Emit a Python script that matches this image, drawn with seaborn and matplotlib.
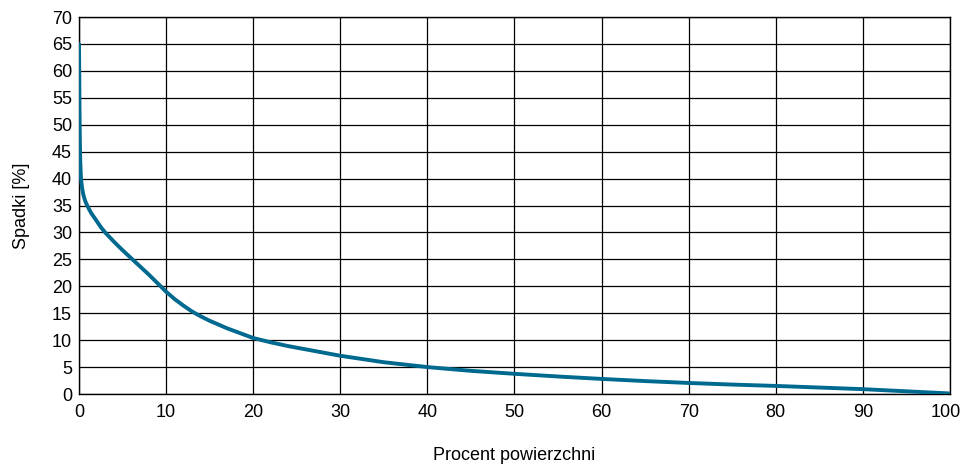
import pandas as pd
import matplotlib
matplotlib.use("Agg")
import matplotlib.pyplot as plt
import matplotlib.transforms as mtransforms
import seaborn as sns

# dane
procent = [0, 0.03, 0.06, 0.1, 0.15, 0.23, 0.35, 0.5, 0.7, 1.0, 1.4, 2, 2.5,
           3, 4, 5, 6, 7, 8, 9, 10, 11, 12, 13, 14, 15, 16, 17, 18, 19, 20,
           22, 24, 26, 28, 30, 35, 40, 45, 50, 55, 60, 65, 70, 75, 80, 85, 90,
           95, 100]
spadki = [65, 60, 53, 47, 43, 40, 38.3, 37.0, 35.9, 34.8, 33.6, 32.2, 31.0,
          30.0, 28.3, 26.7, 25.2, 23.7, 22.2, 20.6, 19.0, 17.6, 16.4, 15.3,
          14.4, 13.6, 12.9, 12.2, 11.6, 11.0, 10.4, 9.6, 8.9, 8.3, 7.7, 7.1,
          5.9, 5.0, 4.3, 3.75, 3.25, 2.8, 2.4, 2.05, 1.75, 1.5, 1.2, 0.9, 0.5,
          0.1]
x_ticks = list(range(0, 101, 10))
y_ticks = list(range(0, 71, 5))

sns.set_style("white")
plt.rcParams["font.family"] = ["Liberation Sans", "DejaVu Sans"]
plt.rcParams["text.color"] = "black"
plt.rcParams["axes.labelcolor"] = "black"
plt.rcParams["xtick.color"] = "black"
plt.rcParams["ytick.color"] = "black"

df = pd.DataFrame({"Procent powierzchni": procent, "Spadki [%]": spadki})

fig = plt.figure(figsize=(9.62, 4.66), dpi=100)
ax = fig.add_axes([0.0821, 0.1545, 0.9054, 0.809])

sns.lineplot(data=df, x="Procent powierzchni", y="Spadki [%]", ax=ax,
             color="#00698f", linewidth=2.8, zorder=3)

ax.set_xlim(0, 100)
ax.set_ylim(0, 70)
ax.set_xticks(x_ticks)
ax.set_yticks(y_ticks)
ax.grid(True, color="black", linewidth=0.9)
ax.tick_params(length=0, labelsize=13)
ax.tick_params(axis="x", pad=7)
ax.tick_params(axis="y", pad=5)
for s in ax.spines.values():
    s.set_color("black")
    s.set_linewidth(1.0)

# "100" troche w lewo, zeby sie miescil
last = ax.get_xticklabels()[-1]
last.set_transform(last.get_transform() +
                   mtransforms.ScaledTranslation(-4 / 100, 0, fig.dpi_scale_trans))

ax.set_xlabel("Procent powierzchni", fontsize=13, labelpad=19)
ax.set_ylabel("Spadki [%]", fontsize=13, labelpad=16)

plt.savefig("out.png", dpi=100)
